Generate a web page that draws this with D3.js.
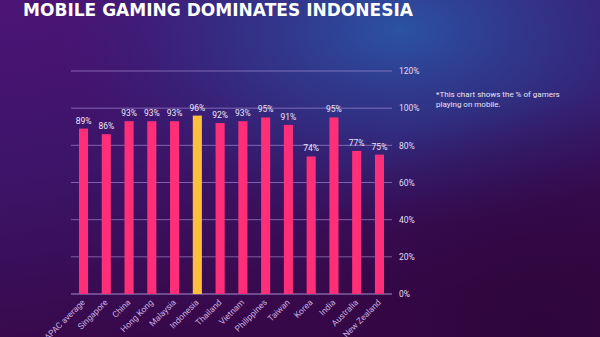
<!DOCTYPE html>
<html><head><meta charset="utf-8">
<script src="https://cdn.jsdelivr.net/npm/d3@7"></script>
<style>html,body{margin:0;padding:0;background:#3a0d5c;overflow:hidden}</style>
</head><body>
<script>
const categories = ["APAC average","Singapore","China","Hong Kong","Malaysia","Indonesia","Thailand","Vietnam","Philippines","Taiwan","Korea","India","Australia","New Zealand"];
const values = [89,86,93,93,93,96,92,93,95,91,74,95,77,75];
const highlight = "Indonesia";
const yTicks = [0,20,40,60,80,100,120];
const title = "MOBILE GAMING DOMINATES INDONESIA";
const noteLines = ["*This chart shows the % of gamers","playing on mobile."];

const W = 600, H = 337;
const svg = d3.select("body").append("svg").attr("width", W).attr("height", H);
const defs = svg.append("defs");
const lg = defs.append("linearGradient").attr("id","bg").attr("x1","0").attr("y1","0").attr("x2","0.3").attr("y2","1");
lg.append("stop").attr("offset","0").attr("stop-color","#4c1476");
lg.append("stop").attr("offset","0.5").attr("stop-color","#3c1468");
lg.append("stop").attr("offset","1").attr("stop-color","#370848");
svg.append("rect").attr("width",W).attr("height",H).attr("fill","url(#bg)");
const rg = defs.append("radialGradient").attr("id","glow").attr("gradientUnits","userSpaceOnUse")
  .attr("cx",400).attr("cy",30).attr("r",280).attr("gradientTransform","translate(400,30) scale(1.2,0.7) translate(-400,-30)");
rg.append("stop").attr("offset","0").attr("stop-color","#2a56a6").attr("stop-opacity",0.95);
rg.append("stop").attr("offset","0.5").attr("stop-color","#2a3f92").attr("stop-opacity",0.6);
rg.append("stop").attr("offset","1").attr("stop-color","#2a2a80").attr("stop-opacity",0);
svg.append("rect").attr("width",W).attr("height",H).attr("fill","url(#glow)");
const rg2 = defs.append("radialGradient").attr("id","dark").attr("gradientUnits","userSpaceOnUse")
  .attr("cx",540).attr("cy",330).attr("r",240);
rg2.append("stop").attr("offset","0").attr("stop-color","#2a0436").attr("stop-opacity",0.7);
rg2.append("stop").attr("offset","1").attr("stop-color","#2a0436").attr("stop-opacity",0);
svg.append("rect").attr("width",W).attr("height",H).attr("fill","url(#dark)");

const x = d3.scaleBand().domain(categories).range([71,392]).paddingInner(0.6).paddingOuter(0.35);
const y = d3.scaleLinear().domain([0,120]).range([294,71]);

// grid
svg.append("g").selectAll("line").data(yTicks).join("line")
  .attr("x1",71).attr("x2",392).attr("y1",d=>y(d)).attr("y2",d=>y(d))
  .attr("stroke","#b9a2e6").attr("stroke-opacity",d=>d===0?0.85:0.55).attr("stroke-width",1);

// y axis labels via d3 axis
const yAxis = d3.axisRight(y).tickValues(yTicks).tickFormat(d=>d+"%").tickSize(0).tickPadding(7);
const ya = svg.append("g").attr("transform","translate(392,0)").call(yAxis);
ya.select(".domain").remove();
ya.selectAll("text").attr("fill","#e6dcf2").attr("font-family","Roboto, sans-serif").attr("font-size",8.5);

// bars
svg.append("g").selectAll("rect").data(categories).join("rect")
  .attr("x",d=>x(d)).attr("width",x.bandwidth())
  .attr("y",(d,i)=>y(values[i])).attr("height",(d,i)=>y(0)-y(values[i]))
  .attr("fill",d=>d===highlight?"#fcbf3c":"#fe2f78");

// value labels
svg.append("g").selectAll("text").data(categories).join("text")
  .attr("x",d=>x(d)+x.bandwidth()/2).attr("y",(d,i)=>y(values[i])-5)
  .attr("text-anchor","middle").attr("fill","#ece4f6")
  .attr("font-family","Roboto, sans-serif").attr("font-size",8.5)
  .text((d,i)=>values[i]+"%");

// x axis labels
const xAxis = d3.axisBottom(x).tickSize(0).tickPadding(0);
const xa = svg.append("g").attr("transform","translate(0,294)").call(xAxis);
xa.select(".domain").remove();
xa.selectAll("text")
  .attr("fill","#c9aee0").attr("font-family","Roboto, sans-serif").attr("font-size",8.5)
  .attr("text-anchor","end").attr("dy",0).attr("y",0)
  .attr("transform","translate(2,9) rotate(-45)");

// title
svg.append("text").attr("x",23).attr("y",16).attr("fill","#ffffff")
  .attr("font-family","'DejaVu Sans', sans-serif").attr("font-weight","bold").attr("font-size",18)
  .attr("textLength",390).attr("lengthAdjust","spacingAndGlyphs")
  .text(title);

// note
svg.append("g").selectAll("text").data(noteLines).join("text")
  .attr("x",436).attr("y",(d,i)=>97+i*10).attr("fill","#e8e2f4")
  .attr("font-family","Roboto, sans-serif").attr("font-size",8)
  .text(d=>d);
</script>
</body></html>
